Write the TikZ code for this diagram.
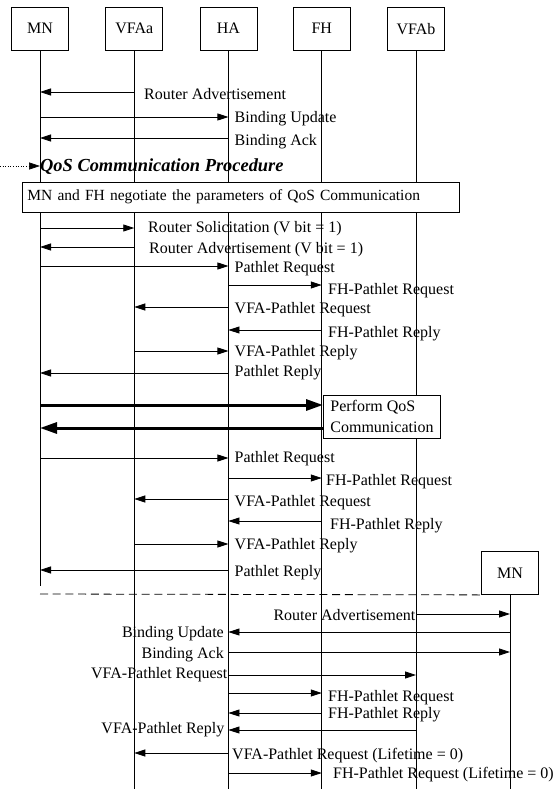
\documentclass[tikz,border=0pt]{standalone}
\usepackage{fontspec}
\setmainfont{Liberation Serif}
\usetikzlibrary{arrows.meta}
\begin{document}
\begin{tikzpicture}[x=1pt,y=-1pt,
  hdr/.style={draw,line width=0.8pt,minimum width=57pt,minimum height=43pt,inner sep=0pt,font=\fontsize{16}{19}\selectfont},
  life/.style={line width=0.8pt},
  msg/.style={line width=0.8pt,-{Triangle[length=11pt,width=7pt]}},
  big/.style={line width=3pt,-{Triangle[length=17pt,width=11pt]}},
  lbl/.style={inner sep=0pt,text height=11pt,text depth=0pt,font=\fontsize{16}{19}\selectfont},
  lw/.style={lbl,anchor=west},
  le/.style={lbl,anchor=east}]
\useasboundingbox (0,0) rectangle (553,789);
% headers
\node[hdr] (MN) at (40,28.7) {MN};
\node[hdr] (VFAa) at (134.3,28.7) {VFAa};
\node[hdr] (HA) at (228.4,28.7) {HA};
\node[hdr] (FH) at (321.8,28.7) {FH};
\node[hdr] (VFAb) at (416,28.7) {VFAb};
\node[hdr] (MNb) at (510,573) {MN};
% lifeline ends
\coordinate (MNend) at (40,586);
\coordinate (bot) at (0,789);
\draw[life] (MN) -- (MNend);
\draw[life] (VFAa) -- (VFAa |- bot);
\draw[life] (HA) -- (HA |- bot);
\draw[life] (FH) -- (FH |- bot);
\draw[life] (VFAb) -- (VFAb |- bot);
\draw[life] (MNb) -- (MNb |- bot);
% first block
\draw[msg] (VFAa |- 0,92) -- (MN |- 0,92);
\node[lw] (t1) at (144,94) {Router Advertisement};
\draw[msg] (MN |- 0,117) -- (HA |- 0,117);
\node[lw] (t2) at (234.5,117) {Binding Update};
\draw[msg] (HA |- 0,138) -- (MN |- 0,138);
\node[lw] (t3) at (234.5,140) {Binding Ack};
% QoS procedure
\coordinate (qs) at (0,166);
\draw[line width=0.6pt,dotted,-{Triangle[length=11pt,width=7pt]}] (qs) -- (MN |- qs);
\node[anchor=west,inner sep=0pt,font=\fontsize{18.4}{22}\selectfont\bfseries\itshape] (qt) at (40,166.5) {QoS Communication Procedure};
\node[draw,line width=0.8pt,fill=white,anchor=west,minimum height=30pt,text width=427pt,inner xsep=5pt,align=left,font=\fontsize{15.5}{19}\selectfont] (neg) at (22,197) {MN and FH negotiate the parameters of QoS Communication};
% messages
\draw[msg] (MN |- 0,228) -- (VFAa |- 0,228);
\node[lw] (t4) at (148,227) {Router Solicitation (V bit = 1)};
\draw[msg] (VFAa |- 0,247) -- (MN |- 0,247);
\node[lw] (t5) at (149,248) {Router Advertisement (V bit = 1)};
\draw[msg] (MN |- 0,266) -- (HA |- 0,266);
\node[lw] (t6) at (234.5,267) {Pathlet Request};
\draw[msg] (HA |- 0,285) -- (FH |- 0,285);
\node[lw] (t7) at (328,289) {FH-Pathlet Request};
\draw[msg] (HA |- 0,307) -- (VFAa |- 0,307);
\node[lw] (t8) at (234.5,308) {VFA-Pathlet Request};
\draw[msg] (FH |- 0,330) -- (HA |- 0,330);
\node[lw] (t9) at (328,332) {FH-Pathlet Reply};
\draw[msg] (VFAa |- 0,351) -- (HA |- 0,351);
\node[lw] (t10) at (234.5,351) {VFA-Pathlet Reply};
\draw[msg] (HA |- 0,373) -- (MN |- 0,373);
\node[lw] (t11) at (234.5,371) {Pathlet Reply};
% perform QoS
\node[draw,line width=0.8pt,fill=white,anchor=north west,minimum width=117pt,minimum height=43pt,inner xsep=7pt,inner ysep=0pt,align=left,font=\fontsize{16}{21}\selectfont] (pq) at (323,395) {Perform QoS\\Communication};
\draw[big] (MN |- 0,405) -- (pq.west |- 0,405);
\draw[big] (pq.west |- 0,428) -- (MN |- 0,428);
% second block
\draw[msg] (MN |- 0,458) -- (HA |- 0,458);
\node[lw] (t12) at (234.5,457) {Pathlet Request};
\draw[msg] (HA |- 0,478) -- (FH |- 0,478);
\node[lw] (t13) at (326,480) {FH-Pathlet Request};
\draw[msg] (HA |- 0,499) -- (VFAa |- 0,499);
\node[lw] (t14) at (234.5,501) {VFA-Pathlet Request};
\draw[msg] (FH |- 0,521) -- (HA |- 0,521);
\node[lw] (t15) at (330,524) {FH-Pathlet Reply};
\draw[msg] (VFAa |- 0,544) -- (HA |- 0,544);
\node[lw] (t16) at (234.5,544) {VFA-Pathlet Reply};
\draw[msg] (HA |- 0,570) -- (MN |- 0,570);
\node[lw] (t17) at (234.5,571) {Pathlet Reply};
% separator
\coordinate (dl) at (40,594);
\draw[line width=0.8pt,dash pattern=on 8pt off 4.7pt] (dl) -- (MNb.south west);
% third block
\draw[msg] (VFAb |- 0,614) -- (MNb |- 0,614);
\node[le] (t18) at (415.5,615) {Router Advertisement};
\draw[msg] (MNb |- 0,632) -- (HA |- 0,632);
\node[le] (t19) at (224,632) {Binding Update};
\draw[msg] (HA |- 0,652) -- (MNb |- 0,652);
\node[le] (t20) at (224,653) {Binding Ack};
\draw[msg] (HA |- 0,675) -- (VFAb |- 0,675);
\node[le] (t21) at (227.5,673) {VFA-Pathlet Request};
\draw[msg] (HA |- 0,693) -- (FH |- 0,693);
\node[lw] (t22) at (328,696) {FH-Pathlet Request};
\draw[msg] (FH |- 0,713) -- (HA |- 0,713);
\node[lw] (t23) at (328,713) {FH-Pathlet Reply};
\draw[msg] (VFAb |- 0,730) -- (HA |- 0,730);
\node[le] (t24) at (224.5,728) {VFA-Pathlet Reply};
\draw[msg] (HA |- 0,753) -- (VFAa |- 0,753);
\node[lw] (t25) at (232,754) {VFA-Pathlet Request (Lifetime = 0)};
\draw[msg] (HA |- 0,773) -- (FH |- 0,773);
\node[lw] (t26) at (333,773) {FH-Pathlet Request (Lifetime = 0)};
\end{tikzpicture}
\end{document}
